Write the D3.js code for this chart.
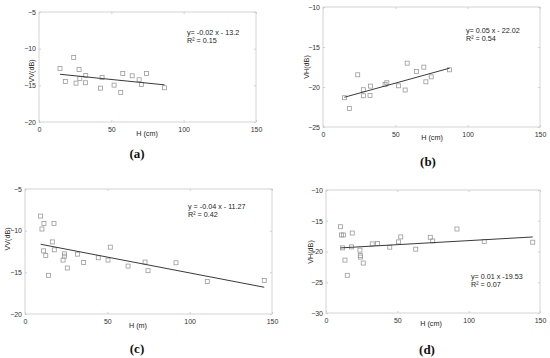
<!DOCTYPE html>
<html>
<head>
<meta charset="utf-8">
<script src="https://cdn.jsdelivr.net/npm/d3@7"></script>
<style>
  body { margin: 0; background: #fff; }
  svg { display: block; }
  .tick text { font-family: Arial, "Liberation Sans", sans-serif; }
</style>
</head>
<body>
<svg width="550" height="358"></svg>
<script>
// panel (a): VV vs H (cm)
var aH  = [14.5, 18.2, 24, 25.6, 27.7, 28.2, 32.3, 32.1, 42.5, 43.6, 51.9, 56.5, 57.9, 64.4, 69.2, 70.8, 74.3, 86.8];
var aVV = [-12.7, -14.47, -11.2, -14.7, -12.84, -14.06, -13.65, -14.65, -15.38, -13.93, -14.97, -15.96, -13.38, -13.7, -14.24, -14.88, -13.38, -15.33];
// panel (b): VH vs H (cm)
var bH  = [14.8, 18.2, 24, 27.9, 27.9, 32.5, 32.9, 42.9, 44.1, 52.2, 56.8, 58.2, 64.6, 69.7, 71.1, 74.8, 87.5];
var bVH = [-21.34, -22.67, -18.47, -20.34, -21.09, -21.05, -19.89, -19.68, -19.47, -19.85, -20.38, -17.02, -18.06, -17.52, -19.35, -18.73, -17.85];
// panel (c): VV vs H (m)
var cH  = [9.5, 10.3, 11.5, 11.3, 12.6, 14.2, 16.6, 17.6, 17.8, 23.1, 23.9, 23.9, 25.7, 31.8, 35.6, 44.5, 50.4, 51.8, 62.6, 72.9, 74.7, 91.7, 110.7, 145.3];
var cVV = [-8.25, -9.8, -9.13, -12.42, -12.98, -15.36, -11.35, -9.13, -12.3, -13.53, -12.78, -13.06, -14.48, -12.82, -13.81, -13.25, -13.53, -11.98, -14.25, -13.77, -14.8, -13.85, -16.11, -15.99];
// panel (d): VH vs H (cm)
var dH  = [10.2, 10.9, 12.3, 11.6, 13.3, 14.9, 18.4, 17.9, 23.8, 24.0, 24.2, 26.1, 32.4, 36.1, 44.7, 50.8, 52.4, 62.9, 73.1, 74.8, 91.8, 110.9, 144.9];
var dVH = [-15.97, -17.31, -17.31, -19.41, -21.4, -23.87, -17.0, -19.25, -19.78, -20.65, -20.91, -21.88, -18.76, -18.71, -19.3, -18.44, -17.63, -19.62, -17.69, -18.28, -16.34, -18.39, -18.49];

// fitted lines: [slope, intercept]
var aFit = [-0.02, -13.2];
var bFit = [0.05, -22.02];
var cFit = [-0.038, -11.27];
var dFit = [0.0132, -19.55];

var xTicks = [0, 50, 100, 150];
var aTicks = [-20, -15, -10, -5];
var bTicks = [-25, -20, -15, -10];
var cTicks = [-20, -15, -10, -5];
var dTicks = [-30, -25, -20, -15, -10];

var eqA = ["y= -0.02 x - 13.2", "R² = 0.15"];
var eqB = ["y= 0.05 x - 22.02", "R² = 0.54"];
var eqC = ["y = -0.04 x - 11.27", "R² = 0.42"];
var eqD = ["y= 0.01 x -19.53", "R² = 0.07"];

var panels = [
  {x: aH, y: aVV, fit: aFit, yTicks: aTicks, eq: eqA, yLabel: "VV(dB)", xLabel: "H (cm)", tag: "(a)",
   box: [39, 12, 256, 122], eqPos: [187, 35], yLabPos: [31, 71], xLabPos: [147, 136], tagPos: [137, 158]},
  {x: bH, y: bVH, fit: bFit, yTicks: bTicks, eq: eqB, yLabel: "VH(dB)", xLabel: "H (cm)", tag: "(b)",
   box: [323, 7, 540, 127], eqPos: [466, 33], yLabPos: [306, 67], xLabPos: [432, 140], tagPos: [428, 166]},
  {x: cH, y: cVV, fit: cFit, yTicks: cTicks, eq: eqC, yLabel: "VV(dB)", xLabel: "H (m)", tag: "(c)",
   box: [25, 189, 272, 314], eqPos: [188, 209], yLabPos: [7, 239], xLabPos: [138, 328], tagPos: [137, 353]},
  {x: dH, y: dVH, fit: dFit, yTicks: dTicks, eq: eqD, yLabel: "VH(dB)", xLabel: "H (cm)", tag: "(d)",
   box: [326, 190, 540, 313], eqPos: [471, 279], yLabPos: [310, 252], xLabPos: [431, 326], tagPos: [427, 354]}
];

var svg = d3.select("svg");
var font = "Arial, 'Liberation Sans', sans-serif";

panels.forEach(function(p) {
  var b = p.box;
  var yDom = d3.extent(p.yTicks);
  var x = d3.scaleLinear().domain([0, 150]).range([b[0], b[2]]);
  var y = d3.scaleLinear().domain(yDom).range([b[3], b[1]]);
  var g = svg.append("g");

  // frame
  g.append("rect")
    .attr("x", b[0]).attr("y", b[1])
    .attr("width", b[2] - b[0]).attr("height", b[3] - b[1])
    .attr("fill", "none").attr("stroke", "#d4d4d4").attr("stroke-width", 1);

  g.append("g").attr("transform", "translate(0," + b[3] + ")")
    .call(d3.axisBottom(x).tickValues(xTicks).tickSize(-2).tickPadding(5));
  g.append("g").attr("transform", "translate(" + b[0] + ",0)")
    .call(d3.axisLeft(y).tickValues(p.yTicks).tickSize(-2).tickPadding(3));
  // top/right inner ticks
  g.append("g").attr("transform", "translate(0," + b[1] + ")")
    .call(d3.axisTop(x).tickValues(xTicks).tickSize(-2).tickFormat(""));
  g.append("g").attr("transform", "translate(" + b[2] + ",0)")
    .call(d3.axisRight(y).tickValues(p.yTicks).tickSize(-2).tickFormat(""));

  g.selectAll(".domain").remove();
  g.selectAll(".tick line").attr("stroke", "#cfcfcf");
  g.selectAll(".tick text").attr("fill", "#333").style("font-size", "7px");

  // scatter
  g.selectAll("rect.pt")
    .data(p.x.map(function(v, i) { return [v, p.y[i]]; }))
    .enter().append("rect")
      .attr("class", "pt")
      .attr("x", function(d) { return x(d[0]) - 2; })
      .attr("y", function(d) { return y(d[1]) - 2; })
      .attr("width", 4).attr("height", 4)
      .attr("fill", "none").attr("stroke", "#9a9a9a").attr("stroke-width", 0.8);

  // fitted line
  var ext = d3.extent(p.x);
  g.append("line")
    .attr("x1", x(ext[0])).attr("y1", y(p.fit[0] * ext[0] + p.fit[1]))
    .attr("x2", x(ext[1])).attr("y2", y(p.fit[0] * ext[1] + p.fit[1]))
    .attr("stroke", "#3a3a3a").attr("stroke-width", 1);

  // equation
  g.selectAll("text.eq")
    .data(p.eq)
    .enter().append("text")
      .attr("class", "eq")
      .attr("x", p.eqPos[0])
      .attr("y", function(d, i) { return p.eqPos[1] + i * 8.3; })
      .attr("font-family", font).attr("font-size", 7.2).attr("fill", "#222")
      .text(function(d) { return d; });

  g.append("text")
    .attr("transform", "translate(" + p.yLabPos[0] + "," + p.yLabPos[1] + ") rotate(-90)")
    .attr("text-anchor", "middle").attr("dy", "0.35em")
    .attr("font-family", font).attr("font-size", 7.2).attr("fill", "#222")
    .text(p.yLabel);

  g.append("text")
    .attr("x", p.xLabPos[0]).attr("y", p.xLabPos[1])
    .attr("text-anchor", "middle")
    .attr("font-family", font).attr("font-size", 7.2).attr("fill", "#222")
    .text(p.xLabel);

  g.append("text")
    .attr("x", p.tagPos[0]).attr("y", p.tagPos[1])
    .attr("text-anchor", "middle")
    .attr("font-family", "'Liberation Serif', 'DejaVu Serif', serif")
    .attr("font-size", 13).attr("font-weight", "bold").attr("fill", "#111")
    .text(p.tag);
});
</script>
</body>
</html>
